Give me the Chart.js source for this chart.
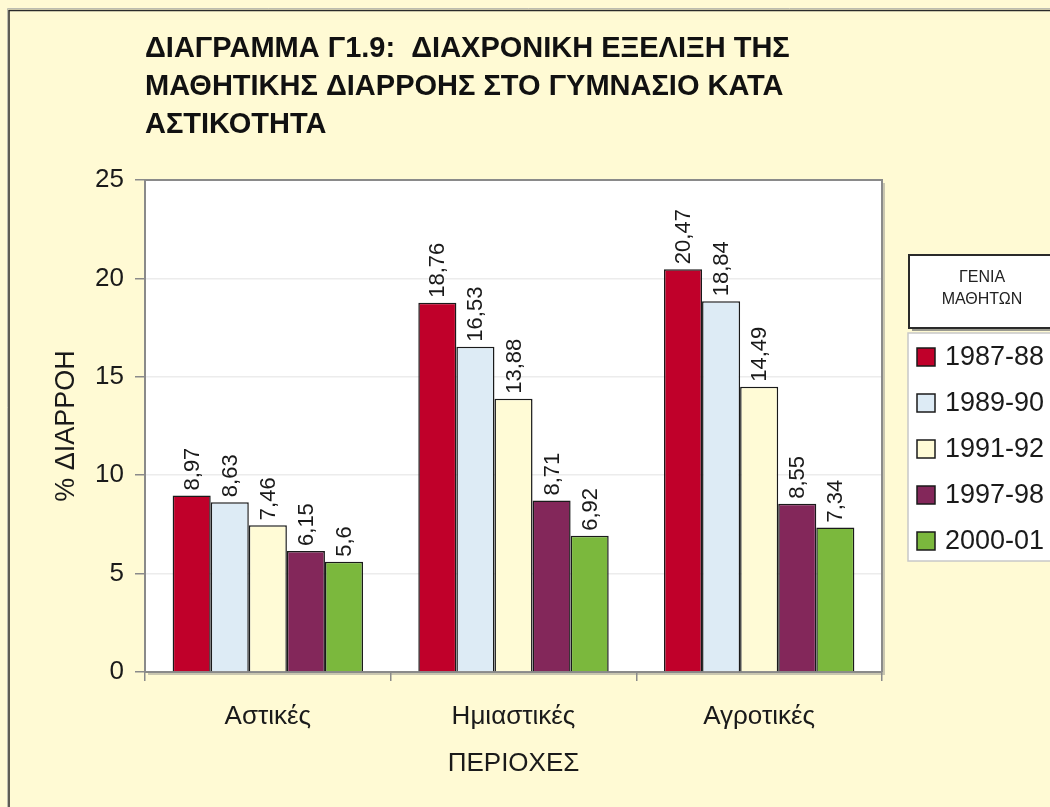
<!DOCTYPE html>
<html>
<head>
<meta charset="utf-8">
<script src="https://cdn.jsdelivr.net/npm/chart.js@4/dist/chart.umd.min.js"></script>
<style>
  html, body { margin: 0; padding: 0; background: #FFFAD4; }
  #wrap { position: relative; width: 1050px; height: 807px; }
  canvas { display: block; }
</style>
</head>
<body>
<div id="wrap"><canvas id="c" width="1050" height="807"></canvas></div>
<script>
// ---- data ----
const categories = ['Αστικές', 'Ημιαστικές', 'Αγροτικές'];
const seriesLabels = ['1987-88', '1989-90', '1991-92', '1997-98', '2000-01'];
const v1987 = [8.97, 18.76, 20.47];
const v1989 = [8.63, 16.53, 18.84];
const v1991 = [7.46, 13.88, 14.49];
const v1997 = [6.15, 8.71, 8.55];
const v2000 = [5.6, 6.92, 7.34];
const yTicks = [0, 5, 10, 15, 20, 25];
const titleLines = [
  'ΔΙΑΓΡΑΜΜΑ Γ1.9:  ΔΙΑΧΡΟΝΙΚΗ ΕΞΕΛΙΞΗ ΤΗΣ',
  'ΜΑΘΗΤΙΚΗΣ ΔΙΑΡΡΟΗΣ ΣΤΟ ΓΥΜΝΑΣΙΟ ΚΑΤΑ',
  'ΑΣΤΙΚΟΤΗΤΑ'
];
const legendTitle = ['ΓΕΝΙΑ', 'ΜΑΘΗΤΩΝ'];
const yTitle = '% ΔΙΑΡΡΟΗ';
const xTitle = 'ΠΕΡΙΟΧΕΣ';

const colors = ['#C0002A', '#DDEBF5', '#FFFBD6', '#83275A', '#7BB83D'];
const seriesValues = [v1987, v1989, v1991, v1997, v2000];

const FONT = '"Liberation Sans", Arial, sans-serif';

const datasets = seriesLabels.map((lab, i) => ({
  label: lab,
  data: seriesValues[i],
  backgroundColor: colors[i],
  borderColor: '#1a1a1a',
  borderWidth: 1.5,
  borderSkipped: 'bottom',
  categoryPercentage: 0.775,
  barPercentage: 1.0
}));

const decor = {
  id: 'decor',
  beforeDraw(chart) {
    const ctx = chart.ctx;
    const a = chart.chartArea;
    ctx.save();
    ctx.fillStyle = '#FFFAD4';
    ctx.fillRect(0, 0, chart.width, chart.height);
    // outer border
    ctx.strokeStyle = '#bdbdb0';
    ctx.lineWidth = 1;
    ctx.beginPath();
    ctx.moveTo(7.5, 807); ctx.lineTo(7.5, 8.5); ctx.lineTo(1050, 8.5);
    ctx.stroke();
    ctx.strokeStyle = '#2a2a2a';
    ctx.lineWidth = 1.5;
    ctx.beginPath();
    ctx.moveTo(9, 807); ctx.lineTo(9, 10.5); ctx.lineTo(1050, 10.5);
    ctx.stroke();
    // plot area shadow + fill
    ctx.fillStyle = '#c9c6b0';
    ctx.fillRect(a.left + 3, a.top + 3, a.right - a.left, a.bottom - a.top);
    ctx.fillStyle = '#ffffff';
    ctx.fillRect(a.left, a.top, a.right - a.left, a.bottom - a.top);
    ctx.restore();
  },
  afterDatasetsDraw(chart) {
    const ctx = chart.ctx;
    const a = chart.chartArea;
    ctx.save();
    // frame top/right
    ctx.strokeStyle = '#8a8a8a';
    ctx.lineWidth = 2;
    ctx.beginPath();
    ctx.moveTo(a.left, a.top); ctx.lineTo(a.right, a.top); ctx.lineTo(a.right, a.bottom);
    ctx.stroke();
    // value labels
    ctx.fillStyle = '#1a1a1a';
    ctx.font = '22px ' + FONT;
    ctx.textAlign = 'left';
    ctx.textBaseline = 'middle';
    chart.data.datasets.forEach((ds, di) => {
      const meta = chart.getDatasetMeta(di);
      meta.data.forEach((el, i) => {
        const txt = String(ds.data[i]).replace('.', ',');
        ctx.save();
        ctx.translate(el.x + 1, el.y - 5);
        ctx.rotate(-Math.PI / 2);
        ctx.fillText(txt, 0, 0);
        ctx.restore();
      });
    });
    ctx.restore();
  },
  afterDraw(chart) {
    const ctx = chart.ctx;
    ctx.save();
    // title
    ctx.fillStyle = '#111';
    ctx.font = 'bold 29px ' + FONT;
    ctx.textAlign = 'left';
    ctx.textBaseline = 'middle';
    titleLines.forEach((t, i) => ctx.fillText(t, 145, 49 + i * 38));
    // legend title box
    ctx.fillStyle = '#9a9a90';
    ctx.fillRect(912, 258, 150, 73);
    ctx.fillStyle = '#ffffff';
    ctx.fillRect(909, 255, 150, 73);
    ctx.strokeStyle = '#2a2a2a';
    ctx.lineWidth = 2;
    ctx.strokeRect(909, 255, 150, 73);
    ctx.fillStyle = '#222';
    ctx.font = '16px ' + FONT;
    ctx.textAlign = 'center';
    ctx.fillText(legendTitle[0], 982, 278);
    ctx.fillText(legendTitle[1], 982, 300);
    // legend box
    ctx.fillStyle = '#ffffff';
    ctx.fillRect(908, 333, 150, 228);
    ctx.strokeStyle = '#c8c8c8';
    ctx.lineWidth = 1.5;
    ctx.strokeRect(908, 333, 150, 228);
    ctx.textAlign = 'left';
    ctx.font = '27px ' + FONT;
    chart.data.datasets.forEach((ds, i) => {
      const cy = 357 + i * 46;
      ctx.fillStyle = ds.backgroundColor;
      ctx.fillRect(917, cy - 9, 18, 18);
      ctx.strokeStyle = '#1a1a1a';
      ctx.lineWidth = 1.5;
      ctx.strokeRect(917, cy - 9, 18, 18);
      ctx.fillStyle = '#1a1a1a';
      ctx.fillText(ds.label, 945, cy + 1);
    });
    ctx.restore();
  }
};

new Chart(document.getElementById('c'), {
  type: 'bar',
  data: { labels: categories, datasets },
  plugins: [decor],
  options: {
    responsive: false,
    animation: false,
    layout: { padding: { left: 0, right: 168, top: 180, bottom: 0 } },
    plugins: {
      legend: { display: false },
      title: { display: false },
      tooltip: { enabled: false }
    },
    scales: {
      x: {
        afterFit(s) { s.height = 135; },
        grid: { display: true, drawOnChartArea: false, drawTicks: true, tickLength: 9, offset: true, tickColor: '#8a8a8a', lineWidth: 1.5 },
        border: { display: true, color: '#8a8a8a', width: 2 },
        ticks: { color: '#1a1a1a', font: { family: FONT, size: 26 }, padding: 20 },
        title: { display: true, text: xTitle, color: '#1a1a1a', font: { family: FONT, size: 26 }, padding: { top: 0, bottom: 28 } }
      },
      y: {
        min: 0, max: 25,
        afterFit(s) { s.width = 145; },
        afterBuildTicks(s) { s.ticks = yTicks.map(v => ({ value: v })); },
        grid: { color: '#ececec', lineWidth: 1.5, drawTicks: true, tickLength: 10, tickColor: '#8a8a8a' },
        border: { display: true, color: '#8a8a8a', width: 2 },
        ticks: { color: '#1a1a1a', font: { family: FONT, size: 26 }, padding: 11 },
        title: { display: true, text: yTitle, color: '#1a1a1a', font: { family: FONT, size: 27 }, padding: { top: 50, bottom: 0 } }
      }
    }
  }
});
</script>
</body>
</html>
